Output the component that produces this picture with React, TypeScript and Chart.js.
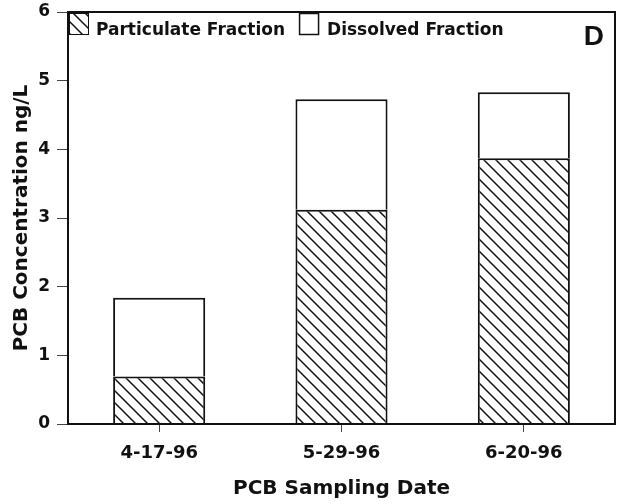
import React, { useEffect, useRef } from "react";
import { Chart, registerables } from "chart.js";

Chart.register(...registerables);

// Sampling dates and PCB fractions (ng/L); the two fractions stack to the total
const samplingDates = ["4-17-96", "5-29-96", "6-20-96"];
const particulateFraction = [0.69, 3.12, 3.87];
const dissolvedFraction = [1.15, 1.61, 0.96];
const yTickValues = [0, 1, 2, 3, 4, 5, 6];
const legendLabels = ["Particulate Fraction", "Dissolved Fraction"];
const panelLabel = "D";

const FONT = "'DejaVu Sans', 'Liberation Sans', sans-serif";
const INK = "#111";

// Diagonal "\" hatching used for the particulate fraction
function makeHatch(): CanvasPattern | string {
  const size = 12;
  const c = document.createElement("canvas");
  c.width = size;
  c.height = size;
  const g = c.getContext("2d");
  if (!g) return "#fff";
  g.fillStyle = "#fff";
  g.fillRect(0, 0, size, size);
  g.strokeStyle = INK;
  g.lineWidth = 1.5;
  g.beginPath();
  g.moveTo(-2, -2);
  g.lineTo(size + 2, size + 2);
  g.moveTo(-2, size - 2);
  g.lineTo(2, size + 2);
  g.moveTo(size - 2, -2);
  g.lineTo(size + 2, 2);
  g.stroke();
  return g.createPattern(c, "repeat") || "#fff";
}

export default function App() {
  const canvasRef = useRef<HTMLCanvasElement | null>(null);

  useEffect(() => {
    const canvas = canvasRef.current;
    if (!canvas) return;
    const hatch = makeHatch();

    // Box around the plot, inline key and panel letter
    const framePlugin = {
      id: "frameAndKey",
      afterDatasetsDraw(chart: any) {
        const { ctx, chartArea: a } = chart;
        ctx.save();
        ctx.strokeStyle = INK;
        ctx.lineWidth = 2;
        ctx.strokeRect(a.left, a.top, a.right - a.left, a.bottom - a.top);

        ctx.font = `bold 17px ${FONT}`;
        ctx.textBaseline = "alphabetic";
        ctx.textAlign = "left";
        ctx.fillStyle = INK;

        // hatched key box
        const b1x = a.left + 1;
        const by = a.top + 1;
        ctx.fillStyle = hatch as any;
        ctx.fillRect(b1x, by, 19, 22);
        ctx.lineWidth = 1;
        ctx.strokeStyle = INK;
        ctx.strokeRect(b1x + 0.5, by + 0.5, 19, 21);
        ctx.fillStyle = INK;
        const t1x = a.left + 28;
        const baseY = a.top + 23;
        ctx.fillText(legendLabels[0], t1x, baseY);
        const w1 = ctx.measureText(legendLabels[0]).width;

        // open key box
        const b2x = t1x + w1 + 14;
        ctx.fillStyle = "#fff";
        ctx.fillRect(b2x, by, 19, 21);
        ctx.lineWidth = 1.5;
        ctx.strokeRect(b2x + 0.5, by + 0.5, 19, 21);
        ctx.fillStyle = INK;
        ctx.fillText(legendLabels[1], b2x + 28, baseY);

        // panel letter
        ctx.font = `bold 28px 'Liberation Sans', Arial, sans-serif`;
        ctx.textAlign = "right";
        ctx.fillText(panelLabel, a.right - 11, a.top + 33);
        ctx.restore();
      },
    };

    const chart = new Chart(canvas, {
      type: "bar",
      data: {
        labels: samplingDates,
        datasets: [
          {
            label: legendLabels[0],
            data: particulateFraction,
            backgroundColor: hatch as any,
            borderColor: INK,
            borderWidth: 2,
          },
          {
            label: legendLabels[1],
            data: dissolvedFraction,
            backgroundColor: "#fff",
            borderColor: INK,
            borderWidth: 2,
          },
        ],
      },
      options: {
        responsive: false,
        animation: false,
        devicePixelRatio: 1,
        layout: { padding: { top: 12, right: 6, left: 0, bottom: 0 } },
        datasets: {
          bar: { categoryPercentage: 0.505, barPercentage: 1 },
        },
        plugins: {
          legend: { display: false },
          tooltip: { enabled: false },
        },
        scales: {
          x: {
            stacked: true,
            afterFit: (s: any) => {
              s.height = 80;
              s.paddingLeft = 0;
              s.paddingRight = 0;
            },
            border: { display: true, color: INK, width: 2 },
            grid: {
              offset: false,
              drawOnChartArea: false,
              tickLength: 8,
              color: "#444",
              lineWidth: 1,
            },
            ticks: {
              color: INK,
              padding: 11,
              font: { family: FONT, size: 18, weight: "bold" },
            },
            title: {
              display: true,
              text: "PCB Sampling Date",
              color: INK,
              padding: { top: 0, bottom: 3 },
              font: { family: FONT, size: 20, weight: "bold" },
            },
          },
          y: {
            stacked: true,
            min: yTickValues[0],
            max: yTickValues[yTickValues.length - 1],
            afterFit: (s: any) => {
              s.width = 68;
              s.paddingTop = 0;
              s.paddingBottom = 0;
            },
            afterBuildTicks: (s: any) => {
              s.ticks = yTickValues.map((v) => ({ value: v }));
            },
            border: { display: true, color: INK, width: 2 },
            grid: {
              drawOnChartArea: false,
              tickLength: 11,
              color: "#444",
              lineWidth: 1,
            },
            ticks: {
              color: INK,
              padding: 7,
              font: { family: FONT, size: 17, weight: "bold" },
            },
            title: {
              display: true,
              text: "PCB Concentration ng/L",
              color: INK,
              padding: { top: 10, bottom: 0 },
              font: { family: FONT, size: 20, weight: "bold" },
            },
          },
        },
      },
      plugins: [framePlugin],
    });

    return () => chart.destroy();
  }, []);

  return (
    <div style={{ position: "absolute", left: 0, top: 0, width: 621, height: 504, background: "#fff" }}>
      <canvas ref={canvasRef} width={621} height={504} />
    </div>
  );
}
